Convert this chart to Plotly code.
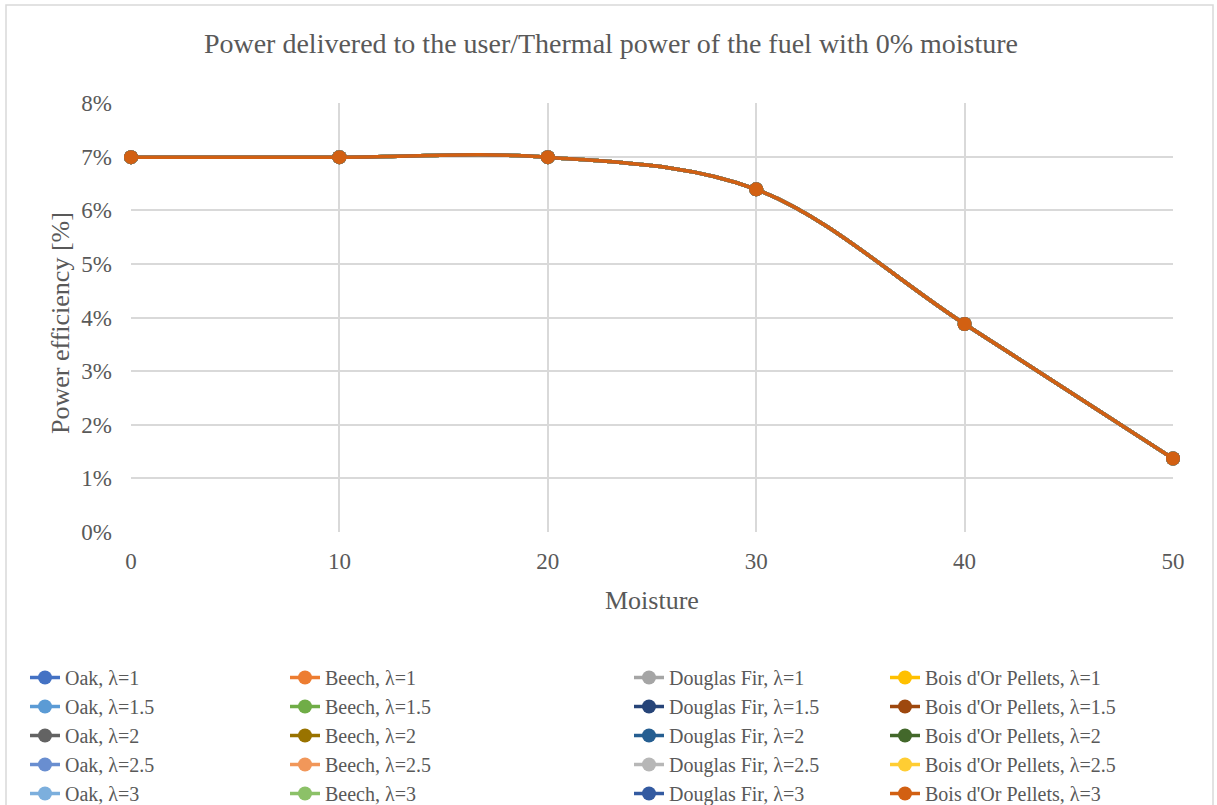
import plotly.graph_objects as go

moisture = [0, 10, 20, 30, 40, 50]
lambdas = ["1", "1.5", "2", "2.5", "3"]
fuels = ["Oak", "Beech", "Douglas Fir", "Bois d'Or Pellets"]

# power efficiency (fraction) per lambda, per fuel
oak = [
    [0.0699, 0.0699, 0.0699, 0.0639, 0.0388, 0.0137],
    [0.0699, 0.0699, 0.0699, 0.0639, 0.0388, 0.0137],
    [0.0699, 0.0699, 0.0699, 0.0639, 0.0388, 0.0137],
    [0.0699, 0.0699, 0.0699, 0.0639, 0.0388, 0.0137],
    [0.0699, 0.0699, 0.0699, 0.0639, 0.0388, 0.0137],
]
beech = [
    [0.0699, 0.0699, 0.0699, 0.0639, 0.0388, 0.0137],
    [0.0699, 0.0699, 0.0699, 0.0639, 0.0388, 0.0137],
    [0.0699, 0.0699, 0.0699, 0.0639, 0.0388, 0.0137],
    [0.0699, 0.0699, 0.0699, 0.0639, 0.0388, 0.0137],
    [0.0699, 0.0699, 0.0699, 0.0639, 0.0388, 0.0137],
]
douglas = [
    [0.0699, 0.0699, 0.0699, 0.0639, 0.0388, 0.0137],
    [0.0699, 0.0699, 0.0699, 0.0639, 0.0388, 0.0137],
    [0.0699, 0.0699, 0.0699, 0.0639, 0.0388, 0.0137],
    [0.0699, 0.0699, 0.0699, 0.0639, 0.0388, 0.0137],
    [0.0699, 0.0699, 0.0699, 0.0639, 0.0388, 0.0137],
]
bois = [
    [0.0699, 0.0699, 0.0699, 0.0639, 0.0388, 0.0137],
    [0.0699, 0.0699, 0.0699, 0.0639, 0.0388, 0.0137],
    [0.0699, 0.0699, 0.0699, 0.0639, 0.0388, 0.0137],
    [0.0699, 0.0699, 0.0699, 0.0639, 0.0388, 0.0137],
    [0.0699, 0.0699, 0.0699, 0.0639, 0.0388, 0.0137],
]

colors = {
    "Oak": ["#4472C4", "#5B9BD5", "#636363", "#698ED0", "#7CAFDD"],
    "Beech": ["#ED7D31", "#70AD47", "#997300", "#F1975A", "#8CC168"],
    "Douglas Fir": ["#A5A5A5", "#264478", "#255E91", "#B7B7B7", "#335AA1"],
    "Bois d'Or Pellets": ["#FFC000", "#9E480E", "#43682B", "#FFCD33", "#D26012"],
}
data = {"Oak": oak, "Beech": beech, "Douglas Fir": douglas, "Bois d'Or Pellets": bois}
legend_of = {"Oak": "legend", "Beech": "legend2", "Douglas Fir": "legend3",
             "Bois d'Or Pellets": "legend4"}

FONT = "Liberation Serif, Times New Roman, serif"
GRAY = "#595959"
W, H = 1217, 805

fig = go.Figure()
for li, lam in enumerate(lambdas):
    for fuel in fuels:
        c = colors[fuel][li]
        fig.add_trace(go.Scatter(
            x=moisture, y=data[fuel][li], mode="lines+markers",
            name=f"{fuel}, λ={lam}", legend=legend_of[fuel], cliponaxis=False,
            line=dict(color=c, width=3.5, shape="spline", smoothing=1),
            marker=dict(color=c, size=14),
        ))

def leg(xpx):
    return dict(orientation="v", xref="container", yref="container",
                x=xpx / W, xanchor="left", y=0.1826, yanchor="top",
                font=dict(size=20, color=GRAY, family=FONT),
                bgcolor="rgba(0,0,0,0)", traceorder="normal")

fig.update_layout(
    width=W, height=H,
    paper_bgcolor="white", plot_bgcolor="white",
    font=dict(family=FONT, color=GRAY, size=20),
    title=dict(text="Power delivered to the user/Thermal power of the fuel with 0% moisture",
               x=0.502, xanchor="center", y=1 - 43 / H, yanchor="middle",
               yref="container",
               font=dict(family=FONT, size=28, color=GRAY)),
    margin=dict(l=131, r=44, t=103, b=273, autoexpand=False),
    xaxis=dict(range=[0, 50], tickvals=[0, 10, 20, 30, 40, 50], showgrid=True,
               gridcolor="#D9D9D9", gridwidth=1.5, zeroline=False, showline=False,
               ticks="", ticklabelstandoff=13, tickfont=dict(size=23, color=GRAY),
               tickangle=0, automargin=False),
    yaxis=dict(range=[0, 0.08], dtick=0.01, tickformat=".0%", showgrid=True,
               gridcolor="#D9D9D9", gridwidth=1.5, zeroline=False, showline=False,
               ticks="", ticklabelstandoff=18, tickfont=dict(size=23, color=GRAY),
               automargin=False),
    legend=leg(25), legend2=leg(285), legend3=leg(629), legend4=leg(885),
    showlegend=True,
)
fig.add_annotation(text="Moisture", xref="paper", yref="paper", x=0.5, y=(532 - 600) / 429,
                   xanchor="center", yanchor="middle", showarrow=False,
                   font=dict(size=26, color=GRAY, family=FONT))
fig.add_annotation(text="Power efficiency [%]", xref="paper", yref="paper",
                   x=(60 - 131) / 1042, y=(532 - 323) / 429, textangle=-90,
                   xanchor="center", yanchor="middle", showarrow=False,
                   font=dict(size=26, color=GRAY, family=FONT))
# outer chart border
px0, px1, py0, py1 = 131, 1173, 103, 532
fig.add_shape(type="rect", xref="paper", yref="paper",
              x0=(6 - px0) / (px1 - px0), x1=(1213 - px0) / (px1 - px0),
              y0=(py1 - 812) / (py1 - py0), y1=(py1 - 5) / (py1 - py0),
              line=dict(color="#D9D9D9", width=1.5), layer="below")

fig.write_html("out.html", config={"displayModeBar": False},
               post_script="document.body.style.margin='0px';")
